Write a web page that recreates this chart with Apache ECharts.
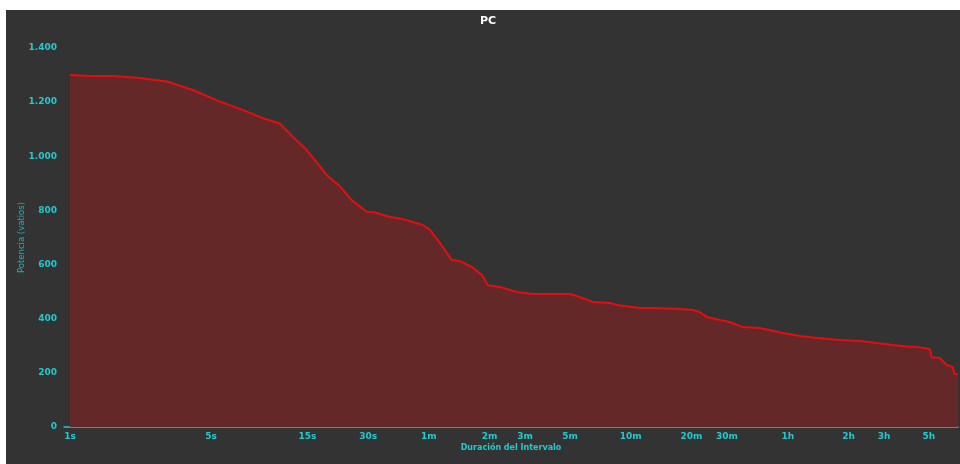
<!DOCTYPE html>
<html>
<head>
<meta charset="utf-8">
<script src="https://cdn.jsdelivr.net/npm/echarts@6/dist/echarts.min.js"></script>
<style>
  html, body { margin: 0; padding: 0; background: #fff; }
  #chart { position: absolute; left: 6px; top: 10px; width: 954px; height: 454px; }
</style>
</head>
<body>
<div id="chart"></div>
<script>
// duration in seconds, power in watts
const durations = [1, 1.26, 1.63, 2.15, 3.02, 4.06, 5.53, 6.95, 9.03, 10.96, 12.7, 14.9, 18.7, 21.7, 24.9, 29.6, 31.7, 38.5, 44.6, 50, 56, 60.7, 68, 78, 85.5, 98, 110, 117.6, 135, 164, 196, 230, 299, 324, 389, 473, 512, 665, 772, 1050, 1218, 1319, 1429, 1657, 1857, 2155, 2617, 3399, 4129, 5013, 6517, 8183, 9935, 11920, 14460, 15660, 18180, 18600, 20370, 22070, 23620, 24160, 25010];
const watts = [1300, 1297, 1297, 1290, 1276, 1245, 1202, 1175, 1141, 1121, 1072, 1023, 931, 890, 838, 794, 794, 776, 768, 757, 746, 728, 680, 617, 613, 591, 561, 524, 517, 499, 491, 491, 491, 484, 462, 458, 451, 440, 440, 436, 432, 425, 406, 395, 388, 369, 366, 347, 336, 329, 321, 318, 310, 303, 296, 296, 288, 258, 255, 229, 222, 196, 196];

const tickValues = [1, 5, 15, 30, 60, 120, 180, 300, 600, 1200, 1800, 3600, 7200, 10800, 18000];
const tickLabels = ['1s', '5s', '15s', '30s', '1m', '2m', '3m', '5m', '10m', '20m', '30m', '1h', '2h', '3h', '5h'];

const CYAN = '#22c9cf';

const chart = echarts.init(document.getElementById('chart'), null, { renderer: 'canvas' });
chart.setOption({
  animation: false,
  backgroundColor: '#333333',
  title: {
    text: 'PC',
    left: 469,
    top: 1,
    textStyle: { color: '#ffffff', fontSize: 11, fontWeight: 'bold', fontFamily: 'DejaVu Sans' },
  },
  grid: { left: 58, right: 2, top: 38, bottom: 37, outerBoundsMode: 'none' },
  xAxis: {
    type: 'log',
    logBase: 10,
    min: 0.934,
    max: 25100,
    name: 'Duración del Intervalo',
    nameLocation: 'middle',
    nameGap: 17,
    nameMoveOverlap: false,
    nameTextStyle: { color: CYAN, fontSize: 8, fontWeight: 'bold', fontFamily: 'DejaVu Sans' },
    axisLine: { show: true, lineStyle: { color: CYAN, width: 1.5 } },
    axisTick: { show: false },
    splitLine: { show: false },
    axisLabel: {
      customValues: tickValues,
      color: CYAN,
      fontSize: 9,
      fontWeight: 'bold',
      fontFamily: 'DejaVu Sans',
      margin: 5,
      formatter: (v) => {
        const i = tickValues.findIndex((t) => Math.abs(t - v) / t < 1e-6);
        return i >= 0 ? tickLabels[i] : '';
      },
    },
  },
  yAxis: {
    type: 'value',
    min: 0,
    max: 1400,
    interval: 200,
    name: 'Potencia (vatios)',
    nameLocation: 'middle',
    nameGap: 38,
    nameMoveOverlap: false,
    nameTextStyle: { color: '#1fb3b8', fontSize: 8.5, fontFamily: 'DejaVu Sans' },
    axisLine: { show: false },
    axisTick: { show: false },
    splitLine: { show: false },
    axisLabel: {
      color: CYAN,
      fontSize: 9,
      fontWeight: 'bold',
      fontFamily: 'DejaVu Sans',
      margin: 7,
      formatter: (v) => String(v).replace(/\B(?=(\d{3})+(?!\d))/g, '.'),
    },
  },
  series: [{
    type: 'line',
    data: durations.map((d, i) => [d, watts[i]]),
    symbol: 'none',
    lineStyle: { color: '#e30f0f', width: 2 },
    areaStyle: { color: '#652828', opacity: 1 },
  }],
});
</script>
</body>
</html>
